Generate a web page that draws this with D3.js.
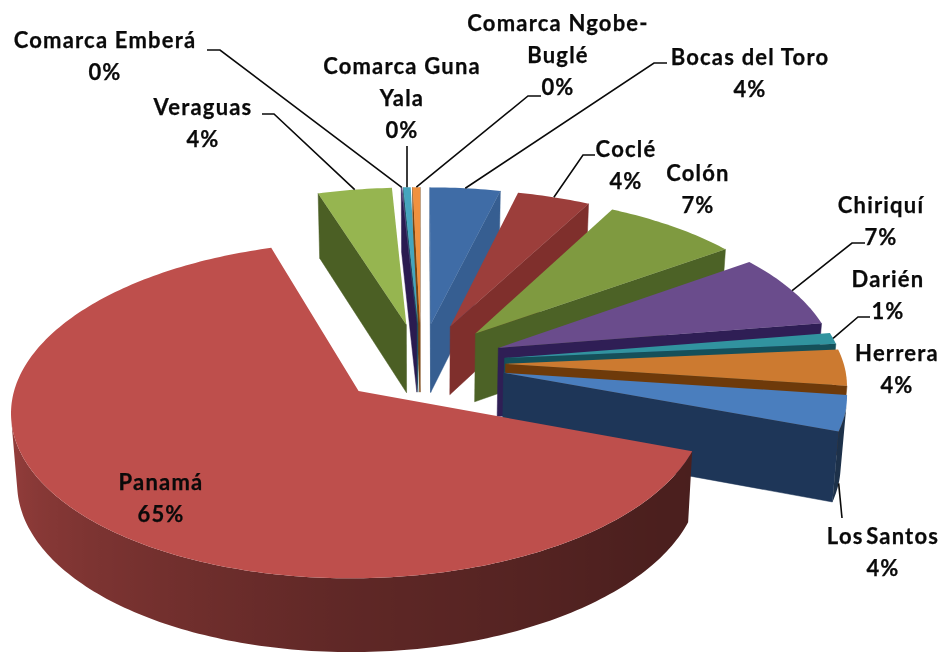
<!DOCTYPE html>
<html><head><meta charset="utf-8">
<script src="https://cdn.jsdelivr.net/npm/d3@7"></script>
<style>html,body{margin:0;background:#fff}svg{display:block;filter:blur(.4px)}text{font-family:Lato,"Open Sans",sans-serif;font-weight:700;fill:#0a0a0a;stroke:#0a0a0a;stroke-width:.25px;letter-spacing:1.2px}</style>
</head><body><svg id="c" width="946" height="655"></svg>
<script>
const categories = ["Bocas del Toro","Coclé","Colón","Chiriquí","Darién","Herrera","Los Santos","Panamá","Veraguas","Comarca Emberá","Comarca Guna Yala","Comarca Ngobe-Buglé"];
const values = [3.8,3.95,7.35,7.35,1.1,3.6,3.5,64.5,4.0,0.05,0.4,0.4];
const labelLines = [["Bocas del Toro"],["Coclé"],["Colón"],["Chiriquí"],["Darién"],["Herrera"],["Los Santos"],["Panamá"],["Veraguas"],["Comarca Emberá"],["Comarca Guna","Yala"],["Comarca Ngobe-","Buglé"]];
const topColors = ["#3F6CA6","#9C3E3B","#7F9A40","#6A4C8C","#31939F","#CC7A30","#4A7EBE","#BE4F4C","#96B550","#5A4080","#45A5BE","#F0913F"];
const wallColors = ["#365E91","#7F2F2C","#4C6226","#2F1E55","#15505A","#6E3A0A","#1E3658","#5E2624","#4B5F24","#2A1B50","#1B5565","#7A4510"];
// layout: label centre x, first baseline, optional leader elbow points
const labelLayout = [
 {x:750,y:65,elbow:[[667,63],[654,63]]},
 {x:626,y:157,elbow:[[595,155],[583,155]]},
 {x:698,y:181},
 {x:881,y:213,elbow:[[865,243],[852,243]]},
 {x:888,y:287,elbow:[[870,317],[858,317]]},
 {x:897,y:361},
 {x:883,y:544,elbow:[[842,518]],base:1,ws:-4},
 {x:161,y:490},
 {x:203,y:115,elbow:[[262,114],[274,114]]},
 {x:105,y:48,elbow:[[207,50],[220,50]]},
 {x:402,y:74,elbow:[[407,146]]},
 {x:558,y:31,elbow:[[541,96],[528,96]]}
];
const deg=Math.PI/180;
const cx=421,cy=363,A=338,B=160,wallH=69,persp=0.11,wallPersp=0.055,wallLean=0.015,explode=0.25;
const xScale=d3.scaleLinear().domain([-1,1]).range([cx-A,cx+A]);
const yScale=d3.scaleLinear().domain([-1,1]).range([cy+B,cy-B]);
const wallScale=d3.scaleLinear().domain([0,1]).range([0,wallH]);
const project=(X,Z,h=0)=>{
  const d=1+persp*Z, x=xScale(X/d), w=wallScale(h)/(1+wallPersp*Z);
  return [cx+(x-cx)*(1-wallLean*h), yScale(Z/d)+w];
};
const rimShade=d3.scaleLinear().domain([90,130,180,225,285]).range([.38,.4,.5,.66,.88]).clamp(true);
const shade=(c,k)=>{const r=d3.rgb(c);return d3.rgb(r.r*k,r.g*k,r.b*k).formatHex();};
const line=d3.line();

const pie=d3.pie().sort(null).startAngle(0).endAngle(2*Math.PI)(values);
const slices=pie.map((p,i)=>{
  const mid=(p.startAngle+p.endAngle)/2;
  const ox=explode*Math.sin(mid),oz=explode*Math.cos(mid);
  const ang=[];const n=Math.max(2,Math.ceil((p.endAngle-p.startAngle)/(1*deg)));
  for(let k=0;k<=n;k++)ang.push(p.startAngle+(p.endAngle-p.startAngle)*k/n);
  return {i,mid,ox,oz,ang};
}).sort((a,b)=>Math.cos(b.mid)-Math.cos(a.mid));

const svg=d3.select("#c");
const defs=svg.append("defs");
const gm=svg.append("g");
slices.forEach(s=>{
  const g=gm.append("g").attr("class","slice");
  const pts=[{X:s.ox,Z:s.oz,t:null}].concat(s.ang.map(a=>({X:s.ox+Math.sin(a),Z:s.oz+Math.cos(a),t:a/deg})));
  const rimTop=[],rimBottom=[],stops=[];
  pts.forEach((a,j)=>{
    const b=pts[(j+1)%pts.length];
    const q=[project(a.X,a.Z),project(b.X,b.Z),project(b.X,b.Z,1),project(a.X,a.Z,1)];
    if(d3.polygonArea(q)<=0) return;       // faces away from the viewer
    if(a.t===null||b.t===null){
      g.append("path").attr("d",line(q)+"Z").attr("fill",wallColors[s.i]).attr("stroke",wallColors[s.i]).attr("stroke-width",.5);
    } else {
      if(!rimTop.length){rimTop.push(q[0]);rimBottom.push(q[3]);stops.push({x:q[0][0],c:shade(topColors[s.i],rimShade(a.t))});}
      rimTop.push(q[1]);rimBottom.push(q[2]);stops.push({x:q[1][0],c:shade(topColors[s.i],rimShade(b.t))});
    }
  });
  if(rimTop.length){
    const [x0,x1]=d3.extent(stops,d=>d.x);
    const id="rim"+s.i;
    const lg=defs.append("linearGradient").attr("id",id).attr("gradientUnits","userSpaceOnUse").attr("x1",x0).attr("x2",x1).attr("y1",0).attr("y2",0);
    stops.sort((u,v)=>u.x-v.x).forEach(d=>lg.append("stop").attr("offset",(d.x-x0)/Math.max(1,x1-x0)).attr("stop-color",d.c));
    g.append("path").attr("d",line(rimTop.concat(rimBottom.reverse()))+"Z").attr("fill",`url(#${id})`);
  }
  g.append("path").attr("d",line(pts.map(p=>project(p.X,p.Z)))+"Z").attr("fill",topColors[s.i]);
});

const gl=svg.append("g");
slices.forEach(s=>{
  const L=labelLayout[s.i];
  if(!L.elbow)return;
  const end=project(s.ox+Math.sin(s.mid),s.oz+Math.cos(s.mid),L.base||0);
  gl.append("path").attr("d",line(L.elbow.concat([end]))).attr("fill","none").attr("stroke","#0a0a0a").attr("stroke-width",1.6);
});
categories.forEach((c,i)=>{
  const L=labelLayout[i];
  const rows=labelLines[i].concat([Math.round(values[i])+"%"]);
  const t=svg.append("text").attr("text-anchor","middle").attr("font-size",22).attr("word-spacing",L.ws||0);
  rows.forEach((r,k)=>t.append("tspan").attr("x",L.x).attr("y",L.y+k*32).text(r));
});
</script></body></html>
